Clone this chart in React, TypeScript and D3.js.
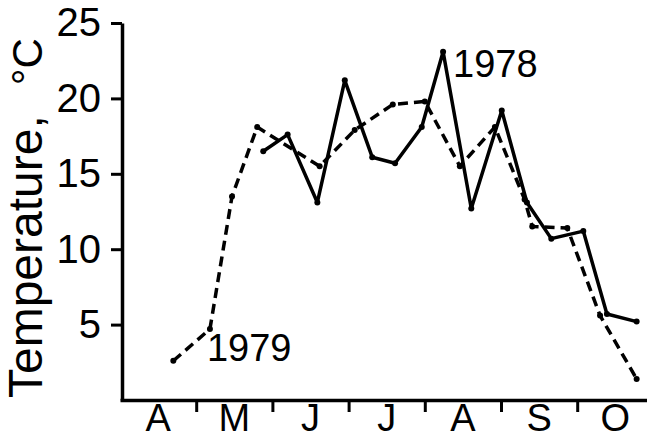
import * as d3 from 'd3';
import { useEffect, useRef } from 'react';

// month initials, April to October
const months = ["A", "M", "J", "J", "A", "S", "O"];
const yTicks = [5, 10, 15, 20, 25];

// time in months after 1 April, temperature in °C
const time1978 = [1.88, 2.2, 2.59, 2.95, 3.31, 3.61, 3.96, 4.24, 4.61, 5.01, 5.34, 5.66, 6.08, 6.39, 6.78];
const temp1978 = [16.5, 17.6, 13.1, 21.2, 16.1, 15.7, 18.1, 23.1, 12.7, 19.2, 13.1, 10.7, 11.2, 5.7, 5.2];

const time1979 = [0.7, 1.18, 1.47, 1.8, 2.62, 3.08, 3.58, 4.0, 4.46, 4.92, 5.31, 5.41, 5.87, 6.3, 6.78];
const temp1979 = [2.6, 4.7, 13.5, 18.1, 15.5, 17.9, 19.6, 19.8, 15.5, 18.1, 13.3, 11.5, 11.4, 5.6, 1.4];

const font = "'Liberation Sans', Arial, Helvetica, sans-serif";

export default function App() {
    const ref = useRef<SVGSVGElement | null>(null);

    useEffect(() => {
        if (!ref.current) return;
        document.body.style.margin = "0";
        const svg = d3.select(ref.current);
        svg.selectAll("*").remove();

        const x = d3.scaleLinear().domain([0, 7]).range([120, 653.4]);
        const y = d3.scaleLinear().domain([0, 25]).range([400, 23]);

        // y axis
        const yAxis = svg.append("g")
            .attr("transform", "translate(122,0)")
            .call(d3.axisLeft(y).tickValues(yTicks).tickSize(11).tickSizeOuter(0).tickPadding(10));
        yAxis.select(".domain").attr("stroke", "#000").attr("stroke-width", 3.5);
        yAxis.selectAll(".tick line").attr("stroke", "#000").attr("stroke-width", 3);
        yAxis.selectAll(".tick text")
            .attr("font-family", font)
            .attr("font-size", 40)
            .attr("fill", "#000");

        // x axis: ticks between months
        const xAxis = svg.append("g")
            .attr("transform", "translate(0,400)")
            .call(d3.axisBottom(x).tickValues([1, 2, 3, 4, 5, 6]).tickSize(12).tickSizeOuter(0).tickFormat(() => ""));
        xAxis.select(".domain").attr("stroke", "#000").attr("stroke-width", 3.5);
        xAxis.selectAll(".tick line").attr("stroke", "#000").attr("stroke-width", 3);

        // month letters centred in each month
        svg.append("g")
            .selectAll("text")
            .data(months)
            .join("text")
            .attr("x", (_, i) => x(i + 0.5))
            .attr("y", 431)
            .attr("text-anchor", "middle")
            .attr("font-family", font)
            .attr("font-size", 38)
            .text(d => d);

        // axis title
        const title = svg.append("text")
            .attr("transform", "translate(42,398) rotate(-90)")
            .attr("font-family", font);
        title.append("tspan").attr("font-size", 48).text("Temperature,");
        title.append("tspan").attr("font-size", 42).attr("dx", 30).text("°C");

        const drawSeries = (times: number[], temps: number[], dashed: boolean) => {
            const pts = times.map((t, i) => [t, temps[i]] as [number, number]);
            svg.append("path")
                .datum(pts)
                .attr("fill", "none")
                .attr("stroke", "#000")
                .attr("stroke-width", 3.5)
                .attr("stroke-linejoin", "round")
                .attr("stroke-dasharray", dashed ? "10,6" : null)
                .attr("d", d3.line<[number, number]>().x(d => x(d[0])).y(d => y(d[1]))(pts) as string);
            svg.append("g")
                .selectAll("circle")
                .data(pts)
                .join("circle")
                .attr("cx", d => x(d[0]))
                .attr("cy", d => y(d[1]))
                .attr("r", 3)
                .attr("fill", "#000");
        };

        drawSeries(time1979, temp1979, true);
        drawSeries(time1978, temp1978, false);

        // series labels
        svg.append("text")
            .attr("x", x(4.24) + 10)
            .attr("y", y(21.4))
            .attr("font-family", font)
            .attr("font-size", 38)
            .text("1978");
        svg.append("text")
            .attr("x", x(1.18) - 3)
            .attr("y", y(2.6))
            .attr("font-family", font)
            .attr("font-size", 38)
            .text("1979");
    }, []);

    return (
        <div style={{ position: "absolute", left: 0, top: 0 }}>
            <svg ref={ref} width={647} height={439} style={{ display: "block", background: "#fff" }} />
        </div>
    );
}
